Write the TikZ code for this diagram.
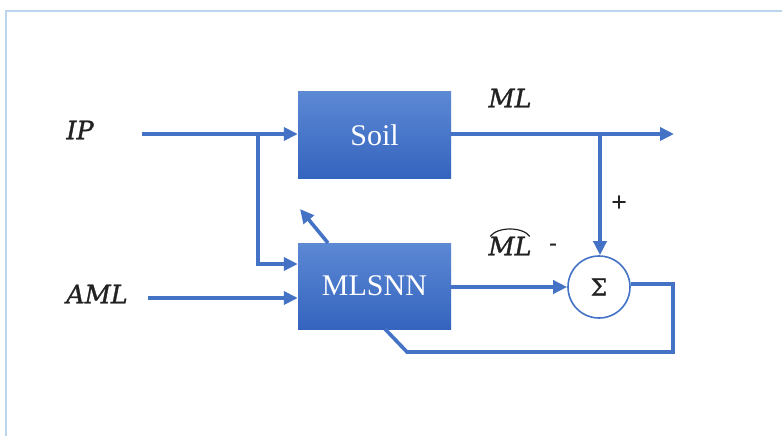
\documentclass[tikz,border=0pt]{standalone}
\usepackage{fontspec}
\setmainfont{Liberation Serif}
\newfontfamily\lblfont[ItalicFeatures={FakeBold=1.2}]{DejaVu Serif}
\newfontfamily\sigfont[FakeBold=1.2]{DejaVu Serif}
\newfontfamily\sgnfont[FakeBold=1.5]{DejaVu Sans}
\usetikzlibrary{arrows.meta,calc}
\definecolor{lineblue}{HTML}{4472C4}
\definecolor{boxtop}{HTML}{5C88D4}
\definecolor{boxbot}{HTML}{3464BE}
\definecolor{framec}{HTML}{BCD5EE}
\definecolor{txtc}{HTML}{222222}
\begin{document}
\begin{tikzpicture}[x=1pt,y=-1pt,
  blk/.style={rectangle, minimum width=153pt, minimum height=86pt, inner sep=0pt,
    top color=boxtop, bottom color=boxbot, draw=none, text=white,
    font=\fontsize{30}{32}\selectfont},
  conn/.style={draw=lineblue, line width=3.6pt},
  arr/.style={conn, -{Triangle[length=14pt,width=13pt]}},
  lbl/.style={inner sep=0pt, text=txtc, font=\lblfont\itshape\fontsize{25.5}{28}\selectfont},
  sgn/.style={inner sep=0pt, text=txtc, font=\sgnfont\fontsize{20}{22}\selectfont}]
\useasboundingbox (0,0) rectangle (782,436);
\fill[white] (0,0) rectangle (782,436);
\draw[framec, line width=2pt] (6,436) -- (6,11) -- (782,11);

\node[blk] (soil) at (374.5,135) {Soil};
\node[blk] (mlsnn) at (374.5,286) {MLSNN};
\node[circle, draw=lineblue, line width=1.6pt, minimum size=62pt, inner sep=0pt,
  text=txtc, font=\sigfont\fontsize{23}{25}\selectfont] (sum) at (599,287) {Σ};

\node[lbl] (ip) at (80,130) {IP};
\node[lbl] (aml) at (97,294) {AML};
\node[lbl] (ml) at (510,98) {ML};
\node[lbl] (mlhat) at (510,246) {ML};
\draw[txtc, line width=1.2pt] ($(mlhat.north west)+(2,0)$) .. controls ($(mlhat.north)+(-13,-10)$) and ($(mlhat.north)+(13,-10)$) .. ($(mlhat.north east)+(-2,0)$);
\node[sgn] (plus) at (619,202) {+};
\node[sgn] (minus) at (553,247) {-};

\coordinate (ipstart) at (142,134);
\coordinate (branch) at (258,134);
\coordinate (amlstart) at (148,298);
\coordinate (mlend) at (674,134);
\coordinate (mltap) at (600,134);
\coordinate (fbA) at (673,284);
\coordinate (fbB) at (673,352);
\coordinate (fbC) at (407,352);
\coordinate (fbD) at (385,329);
\coordinate (adaptS) at (328,243);
\coordinate (adaptE) at (300,209);

\draw[arr] (ipstart) -- (ipstart -| soil.west);
\draw[arr] (branch) |- ($(mlsnn.west)+(0,-22)$);
\draw[arr] (amlstart) -- (amlstart -| mlsnn.west);
\draw[arr] (soil.east |- mlend) -- (mlend);
\draw[arr] (mltap) -- (mltap |- sum.north);
\draw[arr] (mlsnn.east |- sum.west) -- (sum.west);
\draw[conn, line join=miter] (sum.east |- fbA) -- (fbA) -- (fbB) -- (fbC) -- (fbD);
\draw[arr] (adaptS) -- (adaptE);
\end{tikzpicture}
\end{document}
